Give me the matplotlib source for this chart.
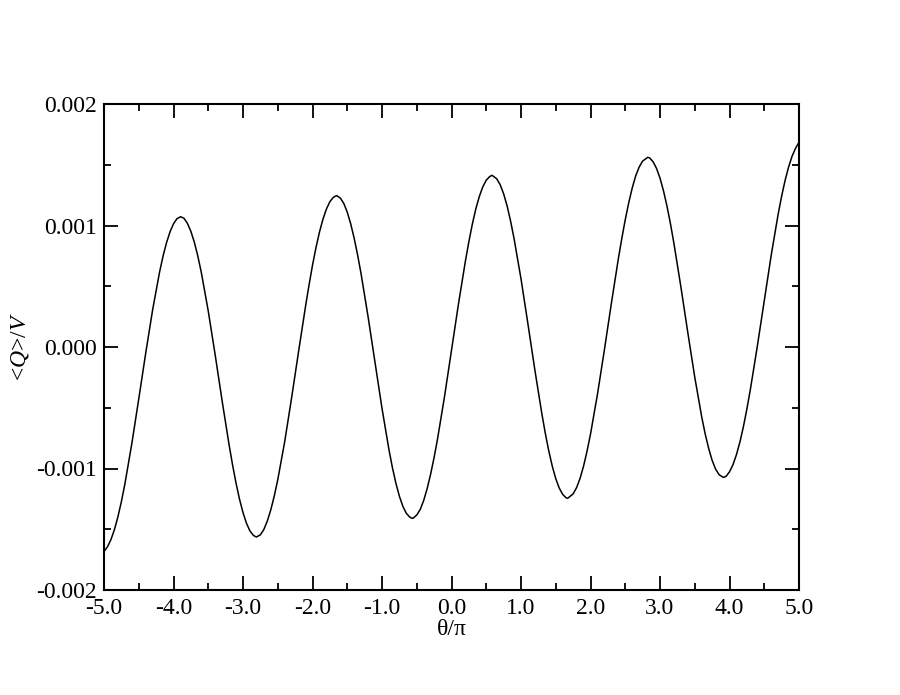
import matplotlib
matplotlib.use("Agg")
import matplotlib.pyplot as plt
from matplotlib.ticker import MultipleLocator, FormatStrFormatter

plt.rcParams.update({
    "font.family": ["Liberation Serif", "DejaVu Serif"],
    "font.size": 17,
    "mathtext.fontset": "custom",
    "mathtext.rm": "Liberation Serif",
    "mathtext.it": "Liberation Serif:italic",
})

# theta/pi and <Q>/V (coarse grid + extrema)
theta = [
    -5.0, -4.9, -4.8, -4.7, -4.6, -4.5, -4.4, -4.3, -4.2, -4.1, -4.0, -3.897,
    -3.8, -3.7, -3.6, -3.5, -3.4, -3.3, -3.2, -3.1, -3.0, -2.9, -2.808,
    -2.7, -2.6, -2.5, -2.4, -2.3, -2.2, -2.1, -2.0, -1.9, -1.8, -1.7, -1.657,
    -1.6, -1.5, -1.4, -1.3, -1.2, -1.1, -1.0, -0.9, -0.8, -0.7, -0.6, -0.568,
    -0.5, -0.4, -0.3, -0.2, -0.1, 0.0, 0.1, 0.2, 0.3, 0.4, 0.5, 0.583,
    0.7, 0.8, 0.9, 1.0, 1.1, 1.2, 1.3, 1.4, 1.5, 1.6, 1.672,
    1.8, 1.9, 2.0, 2.1, 2.2, 2.3, 2.4, 2.5, 2.6, 2.7, 2.823,
    2.9, 3.0, 3.1, 3.2, 3.3, 3.4, 3.5, 3.6, 3.7, 3.8, 3.911,
    4.0, 4.1, 4.2, 4.3, 4.4, 4.5, 4.6, 4.7, 4.8, 4.9, 5.0,
]
q_over_v = [
    -0.001684, -0.001585, -0.001398, -0.001129, -0.000796, -0.000428, -0.000051,
    0.000307, 0.000618, 0.000859, 0.001014, 0.001072,
    0.001018, 0.000862, 0.000614, 0.000296, -0.000066, -0.000445, -0.000806,
    -0.001121, -0.001363, -0.001514, -0.001564,
    -0.001502, -0.001340, -0.001093, -0.000779, -0.000416, -0.000036, 0.000336,
    0.000673, 0.000945, 0.001135, 0.001232, 0.001245,
    0.001226, 0.001110, 0.000894, 0.000599, 0.000248, -0.000130, -0.000505,
    -0.000845, -0.001121, -0.001311, -0.001400, -0.001410,
    -0.001383, -0.001263, -0.001046, -0.000754, -0.000406, -0.000027, 0.000353,
    0.000707, 0.001012, 0.001238, 0.001373, 0.001413,
    0.001336, 0.001161, 0.000893, 0.000561, 0.000189, -0.000191, -0.000549,
    -0.000856, -0.001083, -0.001213, -0.001245,
    -0.001157, -0.000981, -0.000717, -0.000390, -0.000023, 0.000358, 0.000724,
    0.001048, 0.001308, 0.001481, 0.001561,
    0.001525, 0.001390, 0.001161, 0.000854, 0.000497, 0.000119, -0.000248,
    -0.000575, -0.000834, -0.001005, -0.001073,
    -0.001027, -0.000886, -0.000656, -0.000350, 0.000005, 0.000382, 0.000755,
    0.001093, 0.001371, 0.001570, 0.001685,
]

# extra readings around the turning points, where the curve bends most
theta_fine = [
    -4.95, -4.85, -4.75, -4.15, -4.05, -3.95, -3.85, -3.75, -3.65,
    -3.15, -3.05, -2.95, -2.85, -2.75, -2.65, -2.55,
    -2.05, -1.95, -1.85, -1.75, -1.65, -1.55, -1.45, -1.35,
    -0.85, -0.75, -0.65, -0.55, -0.45, -0.35, -0.25,
    0.25, 0.35, 0.45, 0.55, 0.65, 0.75, 0.85,
    1.35, 1.45, 1.55, 1.65, 1.75, 1.85, 1.95,
    2.45, 2.55, 2.65, 2.75, 2.85, 2.95, 3.05, 3.15,
    3.65, 3.75, 3.85, 3.95, 4.05, 4.15, 4.25,
    4.75, 4.85, 4.95,
]
q_fine = [
    -0.001644, -0.001503, -0.001273, 0.000749, 0.000948, 0.001056, 0.001060, 0.000952, 0.000748,
    -0.000971, -0.001253, -0.001451, -0.001551, -0.001546, -0.001432, -0.001226,
    0.000510, 0.000818, 0.001051, 0.001196, 0.001245, 0.001182, 0.001013, 0.000755,
    -0.000993, -0.001228, -0.001369, -0.001408, -0.001337, -0.001165, -0.000908,
    0.000867, 0.001137, 0.001318, 0.001403, 0.001385, 0.001261, 0.001037,
    -0.000711, -0.000981, -0.001161, -0.001242, -0.001209, -0.001081, -0.000858,
    0.000892, 0.001187, 0.001408, 0.001530, 0.001557, 0.001470, 0.001286, 0.001016,
    -0.000715, -0.000933, -0.001051, -0.001065, -0.000969, -0.000782, -0.000511,
    0.001241, 0.001481, 0.001635,
]

pts = sorted(zip(theta + theta_fine, q_over_v + q_fine))
xs = [p[0] for p in pts]
ys = [p[1] for p in pts]

fig = plt.figure(figsize=(9, 6.95), dpi=100)
ax = fig.add_axes([104 / 900, 1 - 590 / 695, 695 / 900, 486 / 695])

ax.plot(xs, ys, color="black", linewidth=1.1)

ax.set_xlim(-5, 5)
ax.set_ylim(-0.002, 0.002)
ax.xaxis.set_major_locator(MultipleLocator(1.0))
ax.xaxis.set_minor_locator(MultipleLocator(0.5))
ax.yaxis.set_major_locator(MultipleLocator(0.001))
ax.yaxis.set_minor_locator(MultipleLocator(0.0005))
ax.xaxis.set_major_formatter(FormatStrFormatter("%.1f"))
ax.yaxis.set_major_formatter(FormatStrFormatter("%.3f"))

ax.tick_params(which="both", direction="in", top=True, right=True, width=1.3)
ax.tick_params(which="major", length=10, labelsize=17)
ax.tick_params(which="minor", length=5)
ax.tick_params(axis="x", which="major", pad=6)
ax.tick_params(axis="y", which="major", pad=5)
for s in ax.spines.values():
    s.set_linewidth(1.5)

ax.set_xlabel("θ/π", fontsize=17, labelpad=0)
ax.set_ylabel("<$\\it{Q}$>/$\\it{V}$", fontsize=17, labelpad=4)

plt.savefig("out.png", dpi=100)
plt.close()
